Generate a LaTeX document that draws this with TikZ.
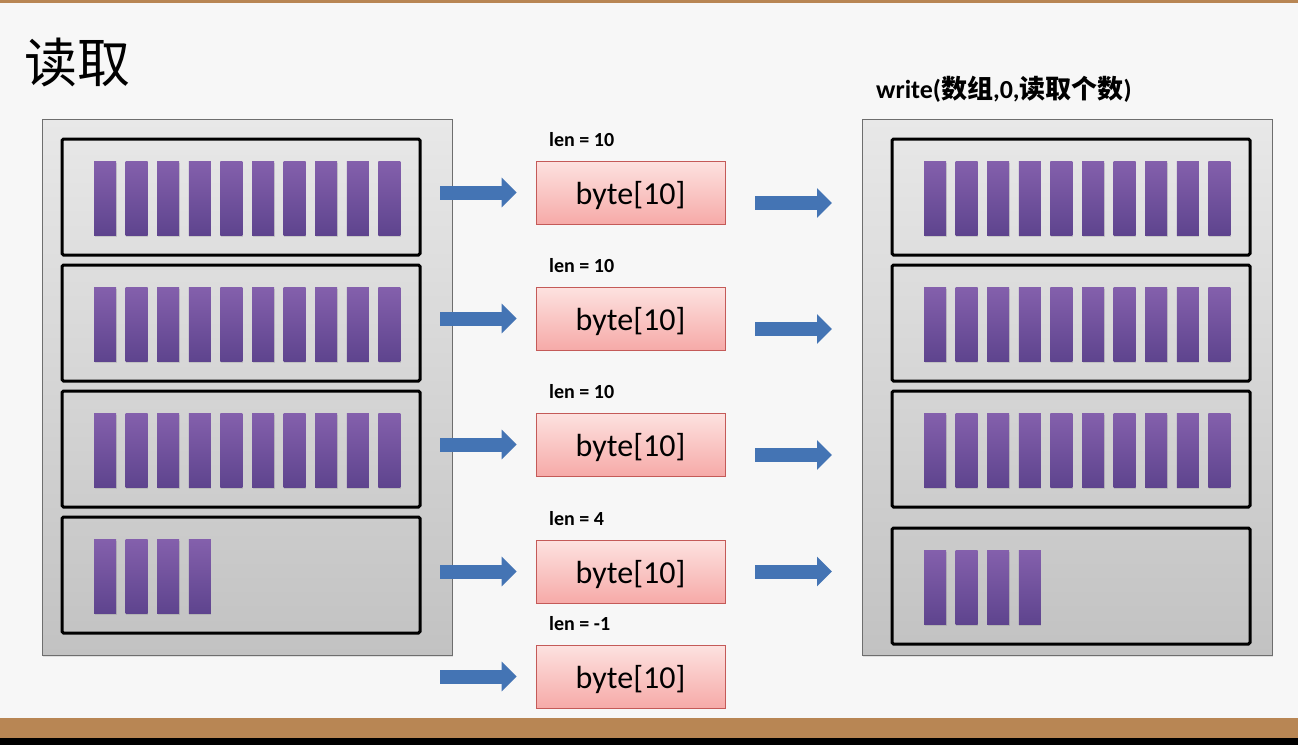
\documentclass[tikz,border=0pt]{standalone}
\usepackage{fontspec}
\setmainfont{Carlito}
\newfontfamily\cjk{Noto Sans CJK SC}
\newfontfamily\cjkbold{Noto Sans CJK SC Bold}
\usetikzlibrary{arrows.meta,shadows}

\definecolor{paper}{RGB}{247,247,247}
\definecolor{wood}{RGB}{184,134,84}
\definecolor{rackTop}{RGB}{232,232,232}
\definecolor{rackBot}{RGB}{194,194,194}
\definecolor{rackEdge}{RGB}{110,110,110}
\definecolor{barTop}{RGB}{132,96,172}
\definecolor{barBot}{RGB}{94,68,142}
\definecolor{bufTop}{RGB}{253,226,224}
\definecolor{bufBot}{RGB}{246,170,168}
\definecolor{bufEdge}{RGB}{196,90,88}
\definecolor{flowBlue}{RGB}{68,116,180}

\begin{document}
\begin{tikzpicture}[x=1pt, y=-1pt,
    rack/.style={draw=rackEdge, line width=0.8pt, top color=rackTop, bottom color=rackBot,
        drop shadow={shadow xshift=1pt, shadow yshift=-1.5pt, opacity=.2}},
    slot/.style={draw=black, line width=3pt, rounded corners=1.5pt},
    cell/.style={top color=barTop, bottom color=barBot,
        drop shadow={shadow xshift=0.5pt, shadow yshift=-1.5pt, opacity=.25}},
    buffer/.style={draw=bufEdge, line width=0.8pt, top color=bufTop, bottom color=bufBot,
        minimum width=189pt, minimum height=63pt, inner sep=0pt,
        text height=28pt, text depth=4pt,
        font=\fontsize{32}{32}\selectfont},
    lenlabel/.style={anchor=base west, inner sep=0pt, font=\bfseries\fontsize{20}{20}\selectfont},
    flow/.style={draw=flowBlue, line width=14pt, -{Triangle[width=29pt,length=15pt]}}]
    \useasboundingbox (0,0) rectangle (1298,745);
    \fill[paper] (0,0) rectangle (1298,745);
    \fill[wood] (0,0) rectangle (1298,3);
    \fill[wood] (0,718) rectangle (1298,738);
    \fill[black] (0,738) rectangle (1298,745);

    % titles
    \node[anchor=base west, inner sep=0pt, font=\cjk\fontsize{53}{53}\selectfont] (title) at (24,82) {读取};
    \node[anchor=base west, inner sep=0pt, font=\bfseries\fontsize{26}{26}\selectfont] (call) at (876,98)
        {write({\cjkbold 数组},0,{\cjkbold 读取个数})};

    % source rack
    \node[rack, anchor=north west, minimum width=410pt, minimum height=536pt, inner sep=0pt] (src) at (42,119) {};
    \foreach \t in {139,265,391,517}
        \draw[slot] (62,\t) rectangle (420,{\t+116});
    \foreach \t in {139,265,391}
        \foreach \i in {0,...,9}
            \path[cell] ({94+31.6*\i},{\t+22}) rectangle +(22,74);
    \foreach \i in {0,...,3}
        \path[cell] ({94+31.6*\i},539) rectangle +(22,74);

    % target rack
    \node[rack, anchor=north west, minimum width=410pt, minimum height=536pt, inner sep=0pt] (dst) at (862,119) {};
    \foreach \t in {139,265,391,528}
        \draw[slot] (892,\t) rectangle (1250,{\t+116});
    \foreach \t in {139,265,391}
        \foreach \i in {0,...,9}
            \path[cell] ({924+31.6*\i},{\t+22}) rectangle +(22,74);
    \foreach \i in {0,...,3}
        \path[cell] ({924+31.6*\i},550) rectangle +(22,74);

    % buffers
    \node[buffer] (b1) at (630.5,192.5) {byte[10]};
    \node[buffer] (b2) at (630.5,318.5) {byte[10]};
    \node[buffer] (b3) at (630.5,444.5) {byte[10]};
    \node[buffer] (b4) at (630.5,571.5) {byte[10]};
    \node[buffer] (b5) at (630.5,676.5) {byte[10]};
    \node[lenlabel] (l1) at (549,146) {len = 10};
    \node[lenlabel] (l2) at (549,272) {len = 10};
    \node[lenlabel] (l3) at (549,398) {len = 10};
    \node[lenlabel] (l4) at (549,525) {len = 4};
    \node[lenlabel] (l5) at (549,630) {len = -1};

    % read arrows
    \coordinate (s1) at (440,192.5);
    \coordinate (s2) at (440,318.5);
    \coordinate (s3) at (440,444.5);
    \coordinate (s4) at (440,571.5);
    \coordinate (s5) at (440,676.5);
    \draw[flow, shorten >=19pt] (s1) -- (b1);
    \draw[flow, shorten >=19pt] (s2) -- (b2);
    \draw[flow, shorten >=19pt] (s3) -- (b3);
    \draw[flow, shorten >=19pt] (s4) -- (b4);
    \draw[flow, shorten >=19pt] (s5) -- (b5);

    % write arrows
    \coordinate (d1) at (832,203);
    \coordinate (d2) at (832,329);
    \coordinate (d3) at (832,455);
    \coordinate (d4) at (832,571.5);
    \draw[flow, shorten <=30pt] (d1 -| b1.east) -- (d1);
    \draw[flow, shorten <=30pt] (d2 -| b2.east) -- (d2);
    \draw[flow, shorten <=30pt] (d3 -| b3.east) -- (d3);
    \draw[flow, shorten <=30pt] (d4 -| b4.east) -- (d4);
\end{tikzpicture}
\end{document}
